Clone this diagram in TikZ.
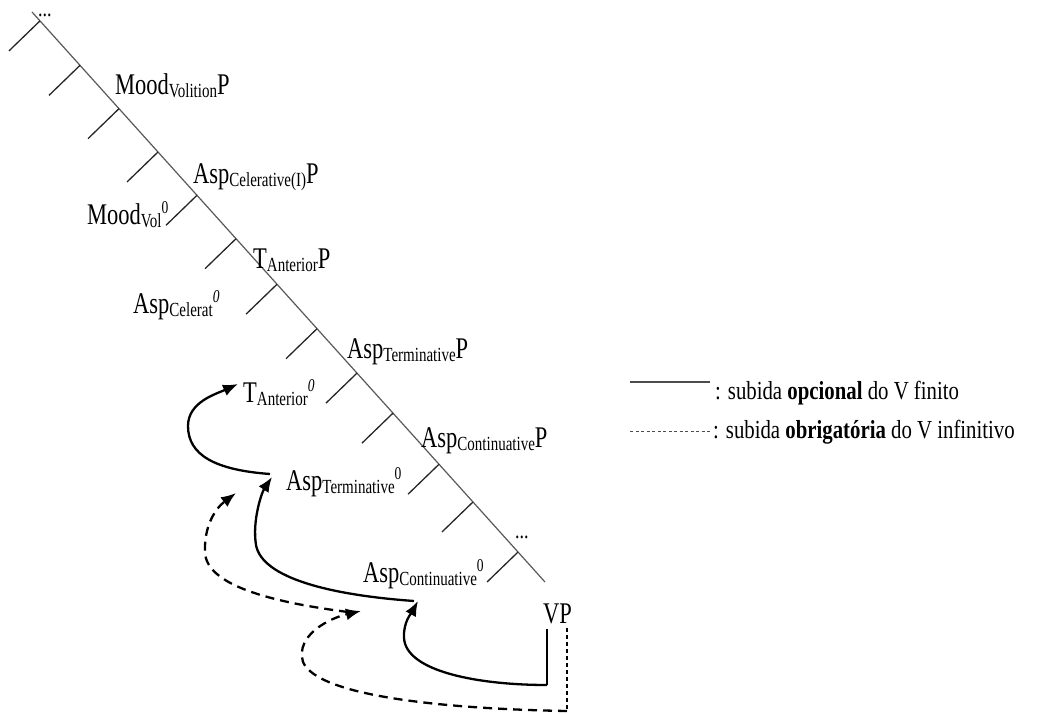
\documentclass[tikz,border=0pt]{standalone}
\usepackage{fontspec}
\setmainfont{Liberation Serif}[FakeStretch=0.75]
\newfontfamily\legendfont{Liberation Serif}[FakeStretch=0.8]
\usetikzlibrary{arrows.meta,calc}

% lowered subscript and raised superscript, word-processor style
\newcommand{\lsub}[1]{\raisebox{-3pt}{\fontsize{20}{20}\selectfont #1}}
\newcommand{\hsup}[1]{\raisebox{11pt}{\fontsize{18}{18}\selectfont #1}}

\begin{document}
\begin{tikzpicture}[x=1pt,y=-1pt,
  lab/.style={anchor=base west,inner sep=0pt,font=\fontsize{30}{30}\selectfont},
  dotlab/.style={anchor=base west,inner sep=0pt,text height=4pt,text depth=0pt,font=\fontsize{24}{24}\selectfont},
  legtext/.style={anchor=base west,inner sep=0pt,font=\legendfont\fontsize{26}{26}\selectfont},
  spine/.style={draw=black!65,line width=1.2pt},
  tick/.style={draw=black!85,line width=1.3pt},
  optional/.style={line width=2.3pt,-{Latex[length=15pt,width=12pt]}},
  obligatory/.style={line width=2.3pt,dash pattern=on 9pt off 6pt,-{Latex[length=15pt,width=12pt]}},
  stem/.style={line width=1.3pt},
  dashstem/.style={line width=1.1pt,dash pattern=on 4pt off 3pt},
  legsolid/.style={draw=black!70,line width=1.5pt},
  legdash/.style={draw=black!70,line width=1pt,dash pattern=on 3pt off 2.5pt}]
\useasboundingbox (0,0) rectangle (1038,714);

% right-branching spine with its left specifier branches
\coordinate (spineTop) at (32,12);
\coordinate (spineBot) at (545,582);
\draw[spine] (spineTop) -- (spineBot);
\foreach \f in {0.0156,0.0936,0.1696,0.2456,0.3216,0.3977,0.4776,0.5556,0.6335,0.7037,0.7934,0.8596,0.9474}
  \draw[tick] ($(spineTop)!\f!(spineBot)$) -- ++(-31,30);

% projections and heads
\node[dotlab] (dotsT) at (38,17) {...};
\node[lab] (moodP) at (115,95) {Mood\lsub{Volition}P};
\node[lab] (celP)  at (193,183) {Asp\lsub{Celerative(I)}P};
\node[lab] (mood0) at (87,224) {Mood\lsub{Vol}\hsup{0}};
\node[lab] (tantP) at (253,268) {T\lsub{Anterior}P};
\node[lab] (cel0)  at (133,313) {Asp\lsub{Celerat}\hsup{\itshape 0}};
\node[lab] (termP) at (347,358) {Asp\lsub{Terminative}P};
\node[lab] (tant0) at (243,402) {T\lsub{Anterior}\hsup{\itshape 0}};
\node[lab] (contP) at (421,447) {Asp\lsub{Continuative}P};
\node[lab] (term0) at (286,490) {Asp\lsub{Terminative}\hsup{0}};
\node[dotlab] (dotsB) at (515,538) {...};
\node[lab] (cont0) at (363,582) {Asp\lsub{Continuative}\hsup{0}};
\node[lab] (vp)    at (543,623) {VP};

% end points of the movement paths
\coordinate (vpSolid) at (547,629);
\coordinate (bendA)   at (547,685);
\coordinate (tipA1)   at (418,601);
\coordinate (startA2) at (414,601);
\coordinate (tipA2)   at (272,477);
\coordinate (startA3) at (270,474);
\coordinate (tipA3)   at (238,384);
\coordinate (vpDash)  at (567,628);
\coordinate (bendD)   at (567,711);
\coordinate (tipD1)   at (361,611);
\coordinate (startD2) at (348,612);
\coordinate (tipD2)   at (236,493);

% optional raising of the finite verb
\draw[stem] (vpSolid) -- (bendA);
\draw[optional] (bendA) .. controls (480,685) and (406,672) .. (404,638)
  .. controls (403,622) and (412,612) .. (tipA1);
\draw[optional] (startA2) .. controls (330,595) and (262,578) .. (256,545)
  .. controls (252,520) and (262,492) .. (tipA2);
\draw[optional] (startA3) .. controls (215,470) and (188,455) .. (188,426)
  .. controls (188,402) and (216,394) .. (tipA3);

% obligatory raising of the infinitive
\draw[dashstem] (vpDash) -- (bendD);
\draw[obligatory] (bendD) .. controls (450,709) and (318,697) .. (303,662)
  .. controls (295,635) and (330,618) .. (tipD1);
\draw[obligatory] (startD2) .. controls (270,602) and (206,585) .. (205,552)
  .. controls (204,525) and (216,508) .. (tipD2);

% legend
\coordinate (solidL) at (630,382);
\coordinate (solidR) at (710,382);
\coordinate (dashL)  at (630,431);
\coordinate (dashR)  at (710,431);
\draw[legsolid] (solidL) -- (solidR);
\draw[legdash] (dashL) -- (dashR);
\node[legtext] (legOpt) at (715,399) {: subida \textbf{opcional} do V finito};
\node[legtext] (legObl) at (713,438) {: subida \textbf{obrigatória} do V infinitivo};
\end{tikzpicture}
\end{document}
